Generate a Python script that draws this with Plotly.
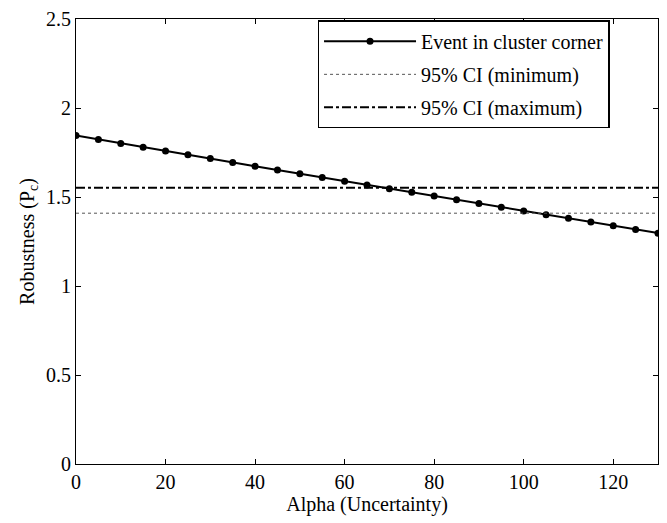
import plotly.graph_objects as go

alpha = [0, 5, 10, 15, 20, 25, 30, 35, 40, 45, 50, 55, 60, 65, 70, 75, 80, 85, 90, 95, 100, 105, 110, 115, 120, 125, 130]
robustness = [1.845, 1.823, 1.801, 1.779, 1.758, 1.737, 1.716, 1.694, 1.673, 1.652, 1.631, 1.610, 1.589, 1.568,
              1.547, 1.526, 1.505, 1.484, 1.463, 1.442, 1.421, 1.400, 1.380, 1.360, 1.339, 1.318, 1.297]
ci_min = 1.409
ci_max = 1.552
x_range = [0, 130]
y_ticks = [0, 0.5, 1, 1.5, 2, 2.5]
y_tick_labels = ["0", "0.5", "1", "1.5", "2", "2.5"]

font = "Liberation Serif"
fs = 20

fig = go.Figure()
fig.add_trace(go.Scatter(
    x=alpha, y=robustness, mode="lines+markers", name="Event in cluster corner", legendgroup="a",
    line=dict(color="black", width=2), marker=dict(color="black", size=7, symbol="circle")))
fig.add_trace(go.Scatter(
    x=x_range, y=[ci_min, ci_min], mode="lines", name="95% CI (minimum)", legendgroup="b",
    line=dict(color="#555555", width=1, dash="dot")))
fig.add_trace(go.Scatter(
    x=x_range, y=[ci_max, ci_max], mode="lines", name="95% CI (maximum)", legendgroup="c",
    line=dict(color="black", width=2, dash="dashdot")))

axis_common = dict(showline=True, linecolor="black", linewidth=1, mirror="ticks", ticks="inside",
                   ticklen=5, tickcolor="black", showgrid=False, zeroline=False,
                   tickfont=dict(family=font, size=fs, color="black"))

fig.update_layout(
    width=667, height=523,
    margin=dict(l=76, r=8, t=15, b=59),
    paper_bgcolor="white", plot_bgcolor="white",
    font=dict(family=font, size=fs, color="black"),
    xaxis=dict(range=x_range, tickvals=list(range(0, 130, 20)),
               title=dict(text="Alpha (Uncertainty)", standoff=2, font=dict(family=font, size=fs)),
               **axis_common),
    yaxis=dict(range=[0, 2.5], tickvals=y_ticks, ticktext=y_tick_labels,
               title=dict(text="Robustness (P<sub>c</sub>)", standoff=6, font=dict(family=font, size=fs)),
               **axis_common),
    legend=dict(x=0.415, y=0.997, xanchor="left", yanchor="top", bordercolor="black", borderwidth=1.5,
                bgcolor="white", font=dict(family=font, size=fs, color="black"), itemwidth=92,
                tracegroupgap=4),
    showlegend=True,
)

fig.write_html("out.html")
